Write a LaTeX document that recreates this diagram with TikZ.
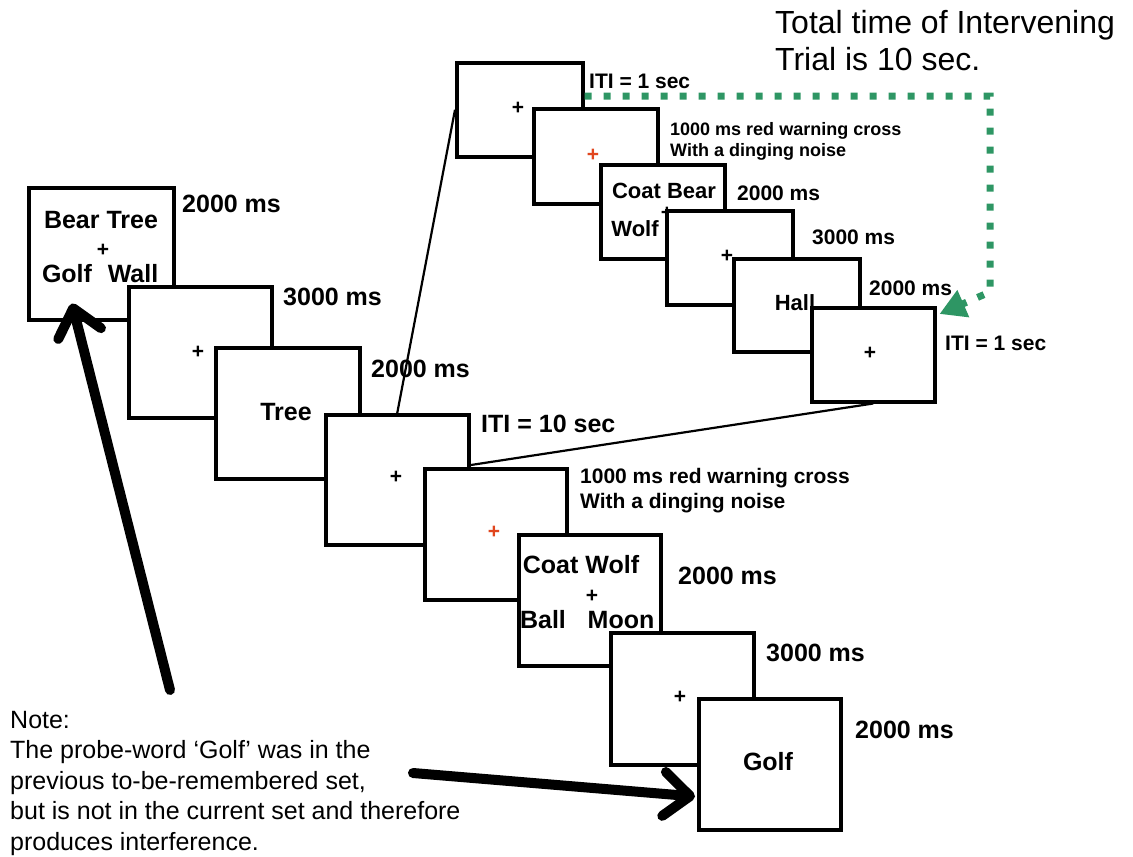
\documentclass[tikz,border=0pt]{standalone}
\usepackage{fontspec}
\setmainfont{Liberation Sans}
\usetikzlibrary{arrows.meta,calc}
\definecolor{dgreen}{RGB}{46,150,100}
\definecolor{xred}{RGB}{225,70,30}
\tikzset{
  frame/.style={draw, line width=3.5pt, fill=white, inner sep=0pt, anchor=north west},
  lab/.style={anchor=base west, inner sep=0pt, font=\fontsize{25}{30}\selectfont\bfseries},
  slab/.style={anchor=base west, inner sep=0pt, font=\fontsize{21}{25}\selectfont\bfseries},
  tlab/.style={anchor=base west, inner sep=0pt, font=\fontsize{18}{22}\selectfont\bfseries},
  mlab/.style={anchor=base west, inner sep=0pt, font=\fontsize{21}{25}\selectfont\bfseries},
  word/.style={inner sep=0pt, font=\fontsize{25}{30}\selectfont\bfseries},
  sword/.style={inner sep=0pt, font=\fontsize{22}{26}\selectfont\bfseries},
  cross/.style={inner sep=0pt, font=\fontsize{21}{24}\selectfont\bfseries},
  rcross/.style={cross, text=xred},
  note/.style={anchor=base west, inner sep=0pt, font=\fontsize{25}{30}\selectfont},
  big/.style={anchor=base west, inner sep=0pt, font=\fontsize{32}{38}\selectfont},
  thin/.style={draw, line width=2.2pt},
  bigarrow/.style={draw, line width=10pt, line cap=round, -{Straight Barb[round, length=26pt, width=44pt]}},
  greenarrow/.style={draw=dgreen, line width=7pt, dash pattern=on 7pt off 12pt, -{Triangle[length=26pt, width=28pt, fill=dgreen]}},
}
\begin{document}
\begin{tikzpicture}[x=1pt, y=-1pt]
\useasboundingbox (0,0) rectangle (1133,857);

% ---------- main sequence ----------
\node[frame, minimum width=145pt, minimum height=132pt] (F1) at (27,186) {};
\node[word] (w1a) at (101,220) {Bear Tree};
\node[cross] (c1) at (103,250) {+};
\node[word] (w1b) at (67,274) {Golf};
\node[word] (w1c) at (133,274) {Wall};
\node[lab] (l1) at (182,212) {2000 ms};

\node[frame, minimum width=143pt, minimum height=131pt] (F2) at (127,285) {};
\node[cross] (c2) at (198,352) {+};
\node[lab] (l2) at (283,305) {3000 ms};

\node[frame, minimum width=144pt, minimum height=131pt] (F3) at (214,346) {};
\node[word] (w3) at (286,412) {Tree};
\node[lab] (l3) at (371,377) {2000 ms};

\node[frame, minimum width=143pt, minimum height=130pt] (F4) at (324,413) {};
\node[cross] (c4) at (396,477) {+};
\node[lab] (l4) at (481,432) {ITI = 10 sec};

\node[frame, minimum width=142pt, minimum height=131pt] (F5) at (423,467) {};
\node[rcross] (c5) at (494,532) {+};
\node[mlab] (l5a) at (580,483) {1000 ms red warning cross};
\node[mlab] (l5b) at (580,508) {With a dinging noise};

\node[frame, minimum width=142pt, minimum height=131pt] (F6) at (517,533) {};
\node[word] (w6a) at (581,565) {Coat Wolf};
\node[cross] (c6) at (592,596) {+};
\node[word] (w6b) at (543,620) {Ball};
\node[word] (w6c) at (621,620) {Moon};
\node[lab] (l6) at (678,584) {2000 ms};

\node[frame, minimum width=143pt, minimum height=132pt] (F7) at (609,631) {};
\node[cross] (c7) at (680,697) {+};
\node[lab] (l7) at (766,661) {3000 ms};

\node[frame, minimum width=142pt, minimum height=131pt] (F8) at (697,697) {};
\node[word] (w8) at (768,762) {Golf};
\node[lab] (l8) at (855,738) {2000 ms};

% ---------- intervening trial ----------
\node[frame, minimum width=126pt, minimum height=94pt] (T1) at (455,61) {};
\node[cross] (tc1) at (518,108) {+};
\node[slab] (tl1) at (589,88) {ITI = 1 sec};

\node[frame, minimum width=124pt, minimum height=95pt] (T2) at (532,107) {};
\node[rcross] (tc2) at (593,155) {+};
\node[tlab] (tl2a) at (670,135) {1000 ms red warning cross};
\node[tlab] (tl2b) at (670,156) {With a dinging noise};

\node[frame, minimum width=124pt, minimum height=94pt] (T3) at (599,163) {};
\node[sword] (tw3a) at (664,191) {Coat Bear};
\node[sword] (tw3b) at (635,229) {Wolf};
\node[cross] (tc3) at (667,213) {+};
\node[slab] (tl3) at (737,200) {2000 ms};

\node[frame, minimum width=126pt, minimum height=94pt] (T4) at (665,209) {};
\node[cross] (tc4) at (727,256) {+};
\node[slab] (tl4) at (812,244) {3000 ms};

\node[frame, minimum width=126pt, minimum height=93pt] (T5) at (732,257) {};
\node[sword] (tw5) at (795,303) {Hall};
\node[slab] (tl5) at (869,295) {2000 ms};

\node[frame, minimum width=123pt, minimum height=94pt] (T6) at (810,306) {};
\node[cross] (tc6) at (870,353) {+};
\node[slab] (tl6) at (945,350) {ITI = 1 sec};

\node[big] (tot1) at (775,33) {Total time of Intervening};
\node[big] (tot2) at (775,70) {Trial is 10 sec.};

% ---------- connectors ----------
\draw[thin] (T1.west) -- (F4.north);
\coordinate (f4r) at ($(F4.north east)!0.39!(F4.south east)$);
\draw[thin] (f4r) -- (T6.south);

\coordinate (gs) at ($(T1.north east)!0.36!(T1.south east)$);
\coordinate (gturn) at (990,292);
\coordinate (gtip) at ($(T6.north east)+(3,8)$);
\draw[greenarrow] (gs) -| (gturn) -- (gtip);

% ---------- note ----------
\node[note] (n1) at (10,728) {Note:};
\node[note] (n2) at (10,758) {The probe-word ‘Golf’ was in the};
\node[note] (n3) at (10,789) {previous to-be-remembered set,};
\node[note] (n4) at (10,819) {but is not in the current set and therefore};
\node[note] (n5) at (10,850) {produces interference.};

\coordinate (a1tail) at (170,690);
\coordinate (a1tip) at ($(F1.south west)+(45,-18)$);
\draw[bigarrow] (a1tail) -- (a1tip);
\coordinate (a2tail) at (413,773);
\coordinate (a2tip) at ($(F8.south west)+(-2,-35)$);
\draw[bigarrow] (a2tail) -- (a2tip);
\end{tikzpicture}
\end{document}
